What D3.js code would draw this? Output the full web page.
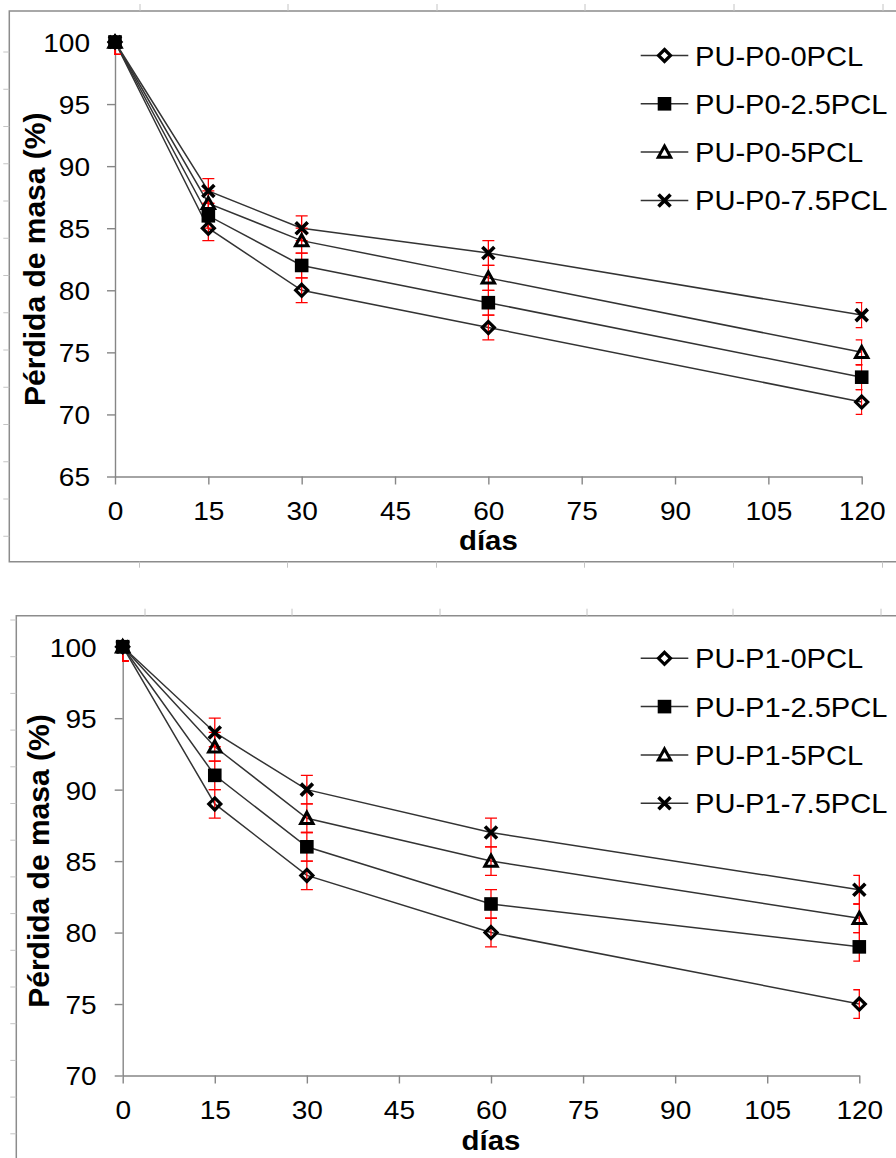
<!DOCTYPE html>
<html>
<head>
<meta charset="utf-8">
<script src="https://cdn.jsdelivr.net/npm/d3@7"></script>
<style>
  body { margin: 0; background: #fff; }
  svg { display: block; }
  text { font-family: "Liberation Sans", Arial, sans-serif; fill: #000; }
</style>
</head>
<body>
<svg id="fig" width="896" height="1158"></svg>
<script>
// Sampling days
const days = [0, 15, 30, 60, 120];
const dayTicks = [0, 15, 30, 45, 60, 75, 90, 105, 120];

// Series P0
const namesP0 = ["PU-P0-0PCL", "PU-P0-2.5PCL", "PU-P0-5PCL", "PU-P0-7.5PCL"];
const p0_0PCL   = [100, 85, 80, 77, 71];
const p0_2_5PCL = [100, 86, 82, 79, 73];
const p0_5PCL   = [100, 87, 84, 81, 75];
const p0_7_5PCL = [100, 88, 85, 83, 78];
const errP0 = [1, 1, 1, 1, 1];
const ticksP0 = [65, 70, 75, 80, 85, 90, 95, 100];

// Series P1
const namesP1 = ["PU-P1-0PCL", "PU-P1-2.5PCL", "PU-P1-5PCL", "PU-P1-7.5PCL"];
const p1_0PCL   = [100, 89, 84, 80, 75];
const p1_2_5PCL = [100, 91, 86, 82, 79];
const p1_5PCL   = [100, 93, 88, 85, 81];
const p1_7_5PCL = [100, 94, 90, 87, 83];
const errP1 = [1, 1, 1, 1, 1];
const ticksP1 = [70, 75, 80, 85, 90, 95, 100];

const markerKinds = ["diamond", "square", "triangle", "cross"];
const yTitle = "Pérdida de masa (%)";
const xTitle = "días";

// Layout of the two panels
const panels = [
  {
    names: namesP0, series: [p0_0PCL, p0_2_5PCL, p0_5PCL, p0_7_5PCL], err: errP0,
    yTicks: ticksP0, yDomain: [65, 100],
    frame: { left: 9.3, top: 11, bottom: 561.7 },
    plot: { left: 115, right: 861.7, top: 42, bottom: 476.5 },
    yLabelGap: 25, yTitleX: 45, xTitleY: 550, legendY0: 55.5,
    rulerTop: [140, 288, 437, 585, 734, 883], rulerLeftStart: 52, rulerLeftStep: 37.25
  },
  {
    names: namesP1, series: [p1_0PCL, p1_2_5PCL, p1_5PCL, p1_7_5PCL], err: errP1,
    yTicks: ticksP1, yDomain: [70, 100],
    frame: { left: 16.3, top: 615.7, bottom: null },
    plot: { left: 122.7, right: 859.3, top: 646.7, bottom: 1075.5 },
    yLabelGap: 26, yTitleX: 48.5, xTitleY: 1150, legendY0: 658.3,
    rulerTop: [145, 292, 440, 587, 733, 881], rulerLeftStart: 620, rulerLeftStep: 36.7
  }
];

const svg = d3.select("#fig");
const W = 896, H = 1158;
const axisColor = "#868686";
const frameColor = "#8c8c8c";
const rulerColor = "#c4c4c4";
const lineColor = "#333";

// Marker drawing
function drawMarker(sel, kind, legend) {
  if (kind === "diamond") {
    sel.append("path").attr("d", "M0,-6L6,0L0,6L-6,0Z")
      .attr("fill", legend ? "#fff" : "none").attr("stroke", "#000").attr("stroke-width", 3.2);
  } else if (kind === "square") {
    sel.append("rect").attr("x", -6.8).attr("y", -6.8).attr("width", 13.6).attr("height", 13.6)
      .attr("fill", "#000");
  } else if (kind === "triangle") {
    sel.append("path").attr("d", "M0,-6L6.2,5.2L-6.2,5.2Z")
      .attr("fill", legend ? "#fff" : "none").attr("stroke", "#000").attr("stroke-width", 3)
      .attr("stroke-linejoin", "miter");
  } else {
    sel.append("path").attr("d", "M-6,-6L6,6M-6,6L6,-6")
      .attr("stroke", "#000").attr("stroke-width", 3.6);
  }
}

panels.forEach((p, pi) => {
  const g = svg.append("g");

  // Outer chart frame with faint ruler ticks
  const fb = p.frame.bottom === null ? H + 2 : p.frame.bottom;
  g.append("path")
    .attr("d", `M${W + 2},${p.frame.top}H${p.frame.left}V${fb}` + (p.frame.bottom === null ? "" : `H${W + 2}`))
    .attr("fill", "none").attr("stroke", frameColor).attr("stroke-width", 1.5);
  p.rulerTop.forEach(x => {
    g.append("line").attr("x1", x).attr("x2", x).attr("y1", p.frame.top - 7).attr("y2", p.frame.top)
      .attr("stroke", rulerColor).attr("stroke-width", 1);
    if (p.frame.bottom !== null) {
      g.append("line").attr("x1", x - 0.5).attr("x2", x - 0.5).attr("y1", p.frame.bottom).attr("y2", p.frame.bottom + 6)
        .attr("stroke", rulerColor).attr("stroke-width", 1);
    }
  });
  for (let y = p.rulerLeftStart; y < fb - 4; y += p.rulerLeftStep) {
    g.append("line").attr("x1", p.frame.left - 6).attr("x2", p.frame.left).attr("y1", y).attr("y2", y)
      .attr("stroke", rulerColor).attr("stroke-width", 1);
  }

  // Scales
  const x = d3.scaleLinear().domain([0, 120]).range([p.plot.left, p.plot.right]);
  const y = d3.scaleLinear().domain(p.yDomain).range([p.plot.bottom, p.plot.top]);

  // Axes
  const yAxis = g.append("g").attr("transform", `translate(${p.plot.left},0)`)
    .call(d3.axisLeft(y).tickValues(p.yTicks).tickSize(8).tickSizeOuter(0));
  const xAxis = g.append("g").attr("transform", `translate(0,${p.plot.bottom})`)
    .call(d3.axisBottom(x).tickValues(dayTicks).tickSize(8).tickSizeOuter(0));
  [yAxis, xAxis].forEach(a => {
    a.select(".domain").attr("stroke", axisColor).attr("stroke-width", 1.4);
    a.selectAll(".tick line").attr("stroke", axisColor).attr("stroke-width", 1.4);
    a.selectAll(".tick text").attr("font-family", "Liberation Sans, Arial, sans-serif")
      .attr("font-size", 26).attr("fill", "#000");
  });
  yAxis.selectAll(".tick text")
    .attr("x", 0).attr("dy", "0.36em").attr("text-anchor", "end")
    .attr("transform", `translate(${-p.yLabelGap},0) scale(1.08,1)`);
  xAxis.selectAll(".tick text")
    .attr("y", 0).attr("dy", 0).attr("text-anchor", "middle")
    .attr("transform", `translate(0,43) scale(1.08,1)`);

  // Axis titles
  g.append("text")
    .attr("transform", `translate(${p.yTitleX},${(p.plot.top + p.plot.bottom) / 2}) rotate(-90)`)
    .attr("text-anchor", "middle").attr("font-weight", "bold").attr("font-size", 30)
    .text(yTitle);
  g.append("text")
    .attr("transform", `translate(${(p.plot.left + p.plot.right) / 2},${p.xTitleY}) scale(1.05,1)`)
    .attr("text-anchor", "middle").attr("font-weight", "bold").attr("font-size", 28)
    .text(xTitle);

  // Error bars are clipped to the plot area
  const clipId = "clip" + pi;
  g.append("clipPath").attr("id", clipId).append("rect")
    .attr("x", p.plot.left - 0.7).attr("y", p.plot.top - 0.7)
    .attr("width", p.plot.right - p.plot.left + 1.4).attr("height", p.plot.bottom - p.plot.top + 1.4);

  const line = d3.line().x((d, i) => x(days[i])).y(d => y(d));

  // Series lines
  p.series.forEach(vals => {
    g.append("path").datum(vals).attr("d", line)
      .attr("fill", "none").attr("stroke", lineColor).attr("stroke-width", 1.5);
  });

  // Error bars
  const eb = g.append("g").attr("clip-path", `url(#${clipId})`);
  p.series.forEach(vals => {
    vals.forEach((v, i) => {
      const cx = x(days[i]), e = p.err[i];
      const yt = y(v + e), ybm = y(v - e);
      eb.append("path")
        .attr("d", `M${cx},${yt}V${ybm}M${cx - 6},${yt}H${cx + 6}M${cx - 6},${ybm}H${cx + 6}`)
        .attr("fill", "none").attr("stroke", "#ff0000").attr("stroke-width", 1.3);
    });
  });

  // Markers
  p.series.forEach((vals, si) => {
    vals.forEach((v, i) => {
      const m = g.append("g").attr("transform", `translate(${x(days[i])},${y(v)})`);
      drawMarker(m, markerKinds[si], false);
    });
  });

  // Legend
  const lg = g.append("g");
  p.names.forEach((name, si) => {
    const ly = p.legendY0 + si * 48.3;
    lg.append("line").attr("x1", 640.7).attr("x2", 688.3).attr("y1", ly).attr("y2", ly)
      .attr("stroke", lineColor).attr("stroke-width", 1.5);
    drawMarker(lg.append("g").attr("transform", `translate(664.5,${ly})`), markerKinds[si], true);
    lg.append("text")
      .attr("transform", `translate(695,${ly + 10}) scale(1.04,1)`)
      .attr("font-size", 28).text(name);
  });
});
</script>
</body>
</html>
